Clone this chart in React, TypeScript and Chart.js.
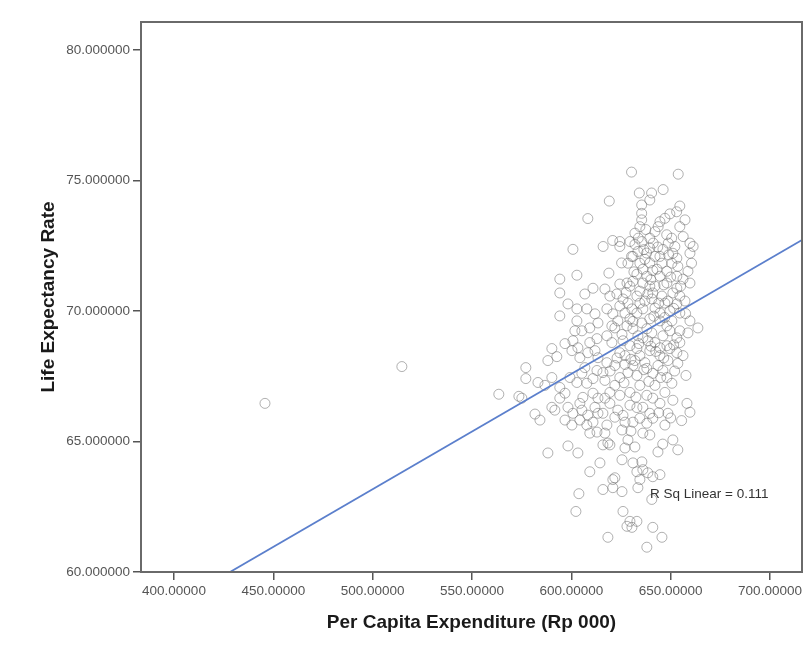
import React, { useEffect, useRef } from "react";
import { Chart, registerables } from "chart.js";

Chart.register(...registerables);

// [per capita expenditure (Rp 000), life expectancy rate]
const samples: [number, number][] = [
  // sparse left side
  [445.8, 66.46], [514.7, 67.87], [563.5, 66.81], [577.1, 67.83], [577.1, 67.41], [573.6, 66.73],
  [575.1, 66.66], [581.7, 66.05], [584.2, 65.82], [588.2, 64.56], [598.3, 64.83], [603.3, 64.56],
  [609.3, 63.84], [603.8, 63.0], [602.3, 62.32], [590.2, 68.56], [588.2, 68.1], [592.7, 68.25],
  [594.2, 71.22], [602.8, 71.37], [594.2, 70.69], [598.3, 70.27], [594.2, 69.81], [602.8, 70.08],
  [607.8, 70.08], [606.8, 70.65], [610.9, 70.87], [602.8, 69.62], [601.8, 69.24], [605.3, 69.24],
  [609.3, 69.35], [611.9, 69.89], [613.4, 69.54], [596.8, 68.75], [600.8, 68.86], [600.3, 68.48],
  [603.3, 68.59], [604.3, 68.21], [608.3, 68.4], [609.3, 68.79], [612.9, 68.94], [611.9, 68.48],
  [613.4, 68.21], [590.2, 67.45], [586.7, 67.15], [594.2, 67.07], [596.8, 66.85], [594.2, 66.66],
  [599.3, 67.45], [602.8, 67.26], [605.3, 67.61], [606.8, 67.83], [607.8, 67.23], [610.9, 67.41],
  [612.9, 67.72], [598.3, 66.31], [600.8, 66.08], [604.3, 66.46], [605.3, 66.2], [608.3, 66.01],
  [611.9, 66.31], [613.4, 66.66], [613.4, 66.08], [590.2, 66.31], [591.7, 66.2], [596.8, 65.82],
  [600.3, 65.63], [604.3, 65.82], [607.8, 65.63], [610.9, 65.74], [612.9, 65.36], [583.2, 67.26],
  [608.3, 73.54], [600.8, 72.36], [609.3, 65.32], [605.8, 66.69], [610.9, 66.85], [619.4, 64.87],
  [614.4, 64.18], [620.9, 63.54],
  // upper part of the main cluster
  [630.3, 75.32], [653.8, 75.24], [619.1, 74.21], [634.2, 74.52], [640.4, 74.52], [646.2, 74.65],
  [639.5, 74.25], [635.4, 74.06], [654.6, 74.02], [653.0, 73.8], [649.6, 73.72], [647.1, 73.55],
  [644.6, 73.42], [643.7, 73.23], [635.4, 73.74], [635.4, 73.49], [634.5, 73.23], [657.2, 73.49],
  [654.6, 73.23], [632.0, 72.98], [633.7, 72.79], [639.5, 72.79], [641.2, 72.6], [639.5, 72.41],
  [648.0, 72.92], [650.5, 72.79], [648.8, 72.6], [656.3, 72.85], [659.7, 72.6], [661.3, 72.47],
  [616.0, 72.47], [620.8, 72.7], [624.4, 72.66], [624.4, 72.47], [632.0, 72.55], [633.5, 72.28],
  [631.0, 72.09], [637.9, 72.22], [642.1, 72.09], [644.6, 72.09], [639.5, 71.84], [651.1, 72.21],
  [653.1, 72.02], [650.6, 71.83], [653.6, 71.71], [659.7, 72.21], [660.5, 71.83], [658.7, 71.52],
  [625.3, 71.84], [630.3, 72.09], [634.5, 71.83], [636.0, 71.6], [633.0, 71.41], [638.0, 71.33],
  [643.1, 71.6], [644.6, 71.33], [648.1, 71.52], [653.1, 71.33], [656.2, 71.22], [659.7, 71.07],
  [618.9, 71.45], [624.4, 71.03], [628.0, 71.07], [631.0, 71.14], [636.0, 71.07], [639.5, 70.95],
  [641.0, 70.69], [648.1, 71.07], [653.1, 70.87], [651.1, 70.69], [654.6, 70.57], [616.9, 70.84],
  [619.4, 70.57], [622.9, 70.65], [626.0, 70.46], [628.5, 70.3], [633.0, 70.57], [634.5, 70.3],
  [636.0, 70.08], [633.0, 69.92], [640.5, 70.46], [642.1, 70.11], [644.6, 69.92], [647.1, 70.3],
  [649.6, 70.0], [653.1, 70.27], [654.6, 69.92], [617.9, 70.08], [620.9, 69.89], [623.4, 69.62],
  [621.9, 69.35], [627.0, 69.92], [629.5, 69.7], [628.0, 69.43], [631.0, 69.32], [635.5, 69.54],
  [638.0, 69.32], [640.5, 69.16], [636.0, 68.97], [644.6, 69.62], [648.1, 69.43], [649.6, 69.24],
  [654.6, 69.24], [658.7, 69.16], [663.7, 69.35], [617.9, 69.05], [620.4, 68.79], [626.0, 68.86],
  [629.5, 68.67], [633.0, 68.56], [642.1, 68.79], [644.6, 68.59], [648.1, 68.67], [653.1, 68.97],
  [654.6, 68.79],
  // lower part of the main cluster
  [624.4, 68.4], [634.5, 68.29], [639.5, 68.48], [644.6, 68.29], [649.6, 68.56], [653.1, 68.4],
  [617.9, 68.02], [621.9, 67.91], [615.9, 67.64], [624.4, 67.45], [631.0, 67.91], [633.0, 67.53],
  [638.0, 67.8], [641.0, 67.61], [646.1, 67.72], [648.1, 67.45], [653.6, 67.99], [650.6, 67.23],
  [619.4, 66.88], [616.9, 66.66], [619.4, 66.46], [623.4, 66.2], [621.9, 65.93], [615.9, 66.08],
  [617.9, 65.63], [616.9, 65.32], [615.9, 64.87], [618.4, 64.94], [629.5, 66.39], [627.0, 65.74],
  [631.0, 65.74], [625.5, 65.44], [638.0, 66.77], [641.0, 66.66], [636.0, 66.31], [639.5, 66.08],
  [641.0, 65.89], [638.0, 65.7], [636.0, 65.32], [639.5, 65.25], [648.6, 66.08], [651.1, 66.58],
  [658.2, 66.46], [659.7, 66.12], [651.1, 65.06], [653.6, 64.68], [643.6, 64.6], [627.0, 64.75],
  [632.0, 64.79], [625.5, 64.3], [631.0, 64.18], [635.5, 64.22], [636.0, 63.92], [638.5, 63.8],
  [641.0, 63.65], [644.6, 63.73], [633.0, 63.84], [634.5, 63.54], [621.9, 63.61], [615.9, 63.16],
  [620.9, 63.23], [625.5, 63.08], [633.5, 63.23], [640.5, 62.78], [626.0, 62.32], [629.5, 61.94],
  [628.0, 61.75], [630.5, 61.71], [633.0, 61.94], [641.0, 61.71], [645.6, 61.33], [638.0, 60.95],
  [618.4, 61.33],
  // dense core
  [628.5, 71.83], [637.0, 71.98], [645.6, 71.83], [642.1, 70.95], [645.6, 70.57], [637.0, 70.38],
  [630.5, 70.08], [639.5, 69.7], [633.5, 69.05], [638.5, 68.86], [646.1, 69.05], [650.6, 69.62],
  [659.7, 69.62], [627.0, 68.29], [637.0, 68.02], [643.6, 67.91], [628.5, 67.64], [634.5, 67.15],
  [642.1, 67.15], [647.1, 66.88], [629.5, 66.88], [624.4, 66.77], [621.9, 67.15], [616.9, 67.34],
  [644.6, 66.46], [634.5, 65.89], [628.5, 65.06], [647.1, 65.63], [642.1, 73.04], [637.5, 73.12],
  [629.5, 72.66], [646.1, 72.36], [635.5, 72.66], [652.1, 72.47], [634.5, 70.76], [629.5, 70.95],
  [648.6, 70.38], [657.2, 70.38], [624.4, 70.19], [620.4, 69.43], [632.0, 68.1], [648.6, 68.1],
  [656.2, 68.29], [657.7, 67.53],
  [631.5, 71.5], [640.0, 71.2], [646.5, 71.0], [650.0, 71.3], [627.5, 70.7], [638.5, 70.65],
  [644.0, 70.3], [651.5, 70.1], [631.0, 69.6], [641.5, 69.8], [647.0, 69.75], [625.5, 69.1],
  [634.0, 68.75], [640.0, 68.65], [651.5, 68.7], [630.0, 68.15], [642.5, 68.45], [646.5, 68.2],
  [636.5, 67.75], [652.0, 67.7], [626.5, 67.25], [639.0, 67.3], [645.0, 67.45], [632.5, 66.7],
  [644.0, 66.1], [650.0, 65.9], [636.5, 72.35], [643.5, 72.45], [649.0, 72.15], [641.0, 71.55],
  [655.0, 70.95], [657.5, 69.9], [623.0, 68.2], [619.5, 67.7], [627.0, 67.95], [633.0, 66.3],
  [626.0, 66.0], [646.0, 64.9], [630.0, 65.4], [655.5, 65.8],
];

// linear fit line, read at the plot edges
const fitExpenditure = [428.2, 716.1];
const fitLife = [60, 72.72];

const xTickValues = [400, 450, 500, 550, 600, 650, 700];
const xTickLabels = ["400.00000", "450.00000", "500.00000", "550.00000", "600.00000", "650.00000", "700.00000"];
const yTickValues = [60, 65, 70, 75, 80];
const yTickLabels = ["60.000000", "65.000000", "70.000000", "75.000000", "80.000000"];

const xRange = [383.4, 716.1];
const yRange = [60, 81.07];

const rsqText = "R Sq Linear = 0.111";
const rsqAnchor = [639.6, 62.97];

const FONT = '"Liberation Sans", Arial, sans-serif';

const framePlugin = {
  id: "spssFrame",
  afterDatasetsDraw(chart: any) {
    const { ctx, chartArea, scales } = chart;
    const { left, top, right, bottom } = chartArea;
    ctx.save();
    ctx.strokeStyle = "#6a6a6a";
    ctx.lineWidth = 2;
    ctx.strokeRect(left, top, right - left, bottom - top);
    ctx.font = `13.5px ${FONT}`;
    ctx.fillStyle = "#333333";
    ctx.textBaseline = "middle";
    ctx.textAlign = "left";
    ctx.fillText(rsqText, scales.x.getPixelForValue(rsqAnchor[0]), scales.y.getPixelForValue(rsqAnchor[1]));
    ctx.restore();
  },
};

export default function App() {
  const ref = useRef<HTMLCanvasElement | null>(null);

  useEffect(() => {
    if (!ref.current) return;
    const chart = new Chart(ref.current, {
      type: "scatter",
      data: {
        datasets: [
          {
            type: "line",
            data: fitExpenditure.map((x, i) => ({ x, y: fitLife[i] })),
            borderColor: "#5b7fcc",
            borderWidth: 1.8,
            pointRadius: 0,
            fill: false,
            order: 0,
          } as any,
          {
            type: "scatter",
            data: samples.map(([x, y]) => ({ x, y })),
            pointRadius: 5,
            pointBorderWidth: 1,
            pointBorderColor: "rgba(100,100,100,0.5)",
            pointBackgroundColor: "rgba(0,0,0,0)",
            pointHoverRadius: 5,
            order: 1,
          } as any,
        ],
      },
      options: {
        animation: false,
        responsive: true,
        maintainAspectRatio: false,
        layout: { padding: { left: 0, top: 22, right: 9, bottom: 0 } },
        plugins: { legend: { display: false }, tooltip: { enabled: false } },
        events: [],
        scales: {
          x: {
            type: "linear",
            min: xRange[0],
            max: xRange[1],
            afterBuildTicks: (s: any) => {
              s.ticks = xTickValues.map((v) => ({ value: v }));
            },
            afterFit: (s: any) => {
              s.height = 83;
            },
            ticks: {
              callback: (v: any) => {
                const i = xTickValues.indexOf(Number(v));
                return i >= 0 ? xTickLabels[i] : "";
              },
              font: { family: FONT, size: 13.5 },
              color: "#555555",
              padding: 3,
              maxRotation: 0,
              autoSkip: false,
            },
            grid: {
              drawOnChartArea: false,
              drawTicks: true,
              tickLength: 8,
              color: "#555555",
              lineWidth: 1.5,
            },
            border: { display: false },
            title: {
              display: true,
              text: "Per Capita Expenditure (Rp 000)",
              font: { family: FONT, size: 19, weight: "bold" },
              color: "#1a1a1a",
              padding: { top: 0, bottom: 21 },
            },
          },
          y: {
            type: "linear",
            min: yRange[0],
            max: yRange[1],
            afterBuildTicks: (s: any) => {
              s.ticks = yTickValues.map((v) => ({ value: v }));
            },
            afterFit: (s: any) => {
              s.width = 141;
            },
            ticks: {
              callback: (v: any) => {
                const i = yTickValues.indexOf(Number(v));
                return i >= 0 ? yTickLabels[i] : "";
              },
              font: { family: FONT, size: 13.5 },
              color: "#555555",
              padding: 3,
              autoSkip: false,
            },
            grid: {
              drawOnChartArea: false,
              drawTicks: true,
              tickLength: 8,
              color: "#555555",
              lineWidth: 1.5,
            },
            border: { display: false },
            title: {
              display: true,
              text: "Life Expectancy Rate",
              font: { family: FONT, size: 19, weight: "bold" },
              color: "#1a1a1a",
              padding: { top: 37, bottom: 0 },
            },
          },
        },
      },
      plugins: [framePlugin],
    });
    return () => chart.destroy();
  }, []);

  return (
    <div style={{ position: "absolute", left: 0, top: 0, width: 811, height: 655, background: "#ffffff" }}>
      <canvas ref={ref} />
    </div>
  );
}
